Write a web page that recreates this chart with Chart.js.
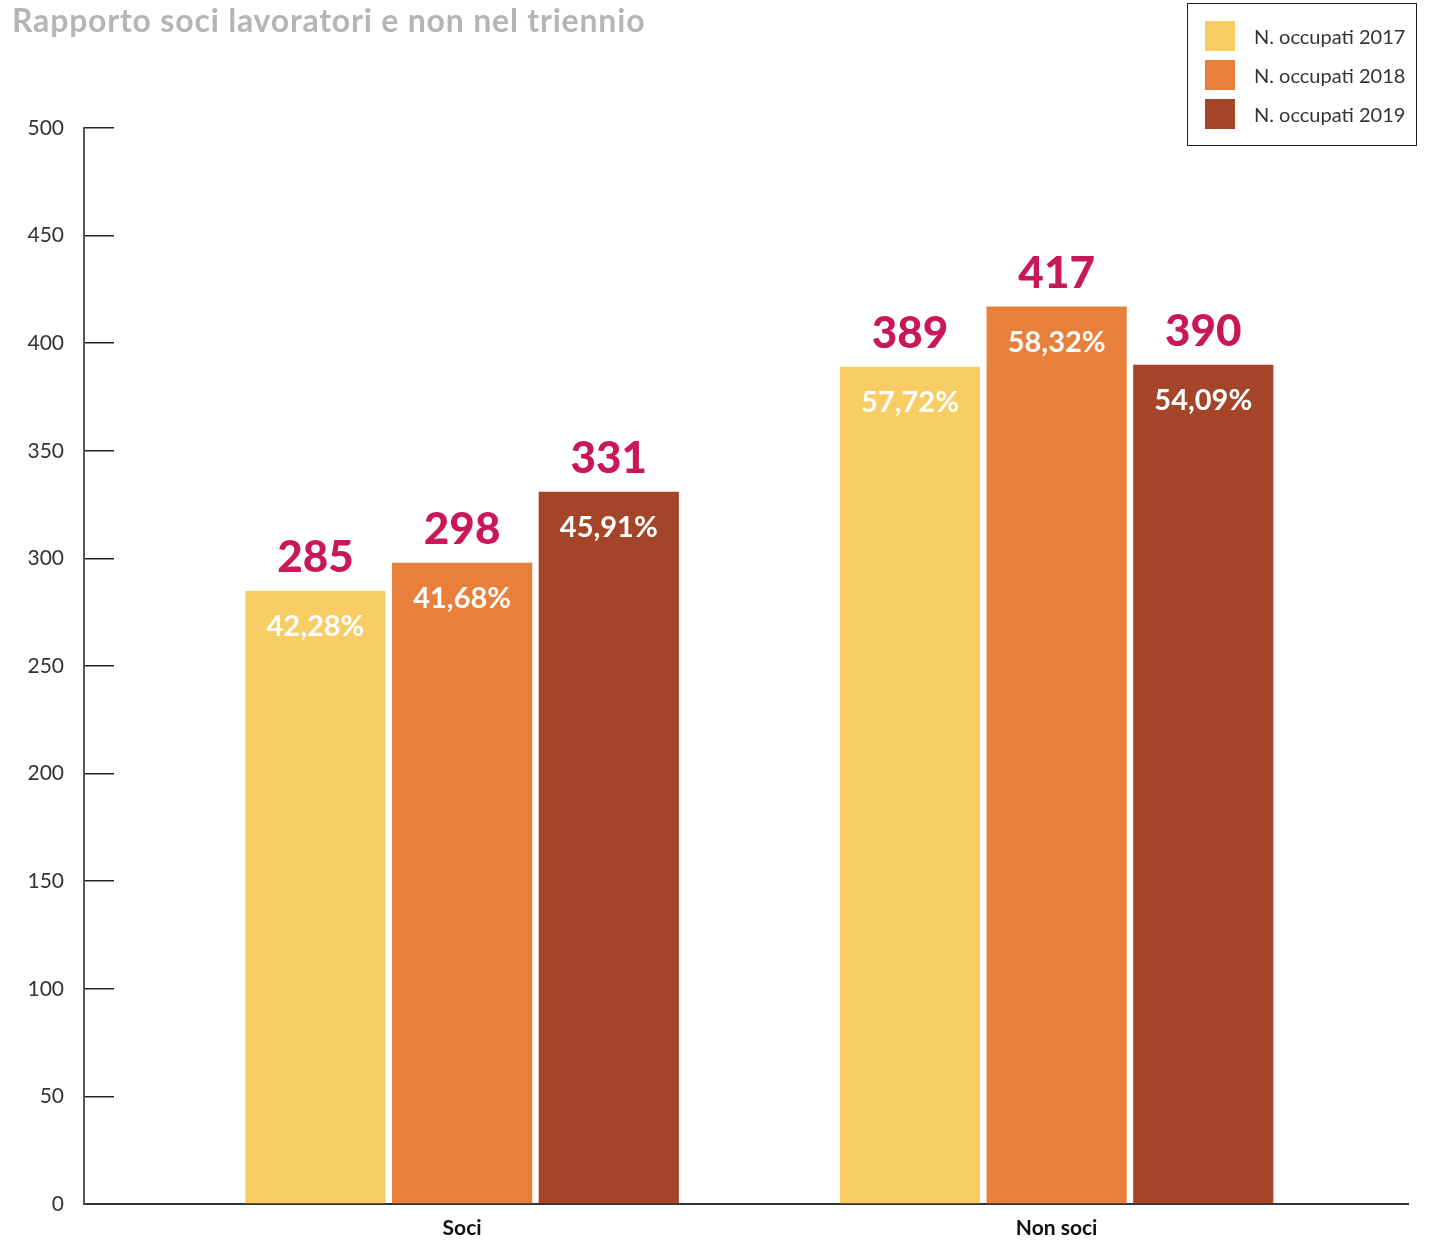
<!DOCTYPE html>
<html>
<head>
<meta charset="utf-8">
<script src="https://cdn.jsdelivr.net/npm/chart.js@4/dist/chart.umd.min.js"></script>
<style>
  body { margin: 0; background: #fff; font-family: Lato, "Open Sans", sans-serif; }
  #wrap { position: relative; width: 1429px; height: 1240px; }
  #title { position: absolute; left: 12px; top: 0px; font-size: 32px; letter-spacing: 0.8px; font-weight: 700; color: #b5b5b5; white-space: nowrap; }
  #legend { position: absolute; left: 1187px; top: 3px; width: 228px; height: 141px; border: 1.5px solid #222; }
  #legend div { position: absolute; left: 17px; height: 30px; line-height: 30px; font-size: 20px; color: #333; white-space: nowrap; }
  #legend span { display: inline-block; width: 30px; height: 30px; vertical-align: top; margin-right: 19px; }
</style>
</head>
<body>
<div id="wrap">
  <canvas id="occupati" width="1429" height="1240"></canvas>
  <div id="title">Rapporto soci lavoratori e non nel triennio</div>
  <div id="legend"></div>
</div>
<script>
const categories = ['Soci', 'Non soci'];
const years = ['N. occupati 2017', 'N. occupati 2018', 'N. occupati 2019'];
const colors = ['#f7cd64', '#e87f3b', '#a4452a'];
const occupati2017 = [285, 389];
const occupati2018 = [298, 417];
const occupati2019 = [331, 390];
const quota2017 = [42.28, 57.72];
const quota2018 = [41.68, 58.32];
const quota2019 = [45.91, 54.09];
const yTicks = [0, 50, 100, 150, 200, 250, 300, 350, 400, 450, 500];

const values = [occupati2017, occupati2018, occupati2019];
const quote = [quota2017, quota2018, quota2019];

// value on top, percentage inside the bar
const barLabels = {
  id: 'barLabels',
  afterDatasetsDraw(chart) {
    const ctx = chart.ctx;
    ctx.save();
    ctx.textAlign = 'center';
    ctx.textBaseline = 'middle';
    chart.data.datasets.forEach((ds, d) => {
      chart.getDatasetMeta(d).data.forEach((bar, i) => {
        ctx.fillStyle = '#c8185a';
        ctx.font = '900 44px Lato';
        ctx.fillText(String(values[d][i]), bar.x, bar.y - 33);
        ctx.fillStyle = '#ffffff';
        ctx.font = '700 29px Lato';
        ctx.fillText(quote[d][i].toFixed(2).replace('.', ',') + '%', bar.x, bar.y + 36);
      });
    });
    ctx.restore();
  }
};

const chart = new Chart(document.getElementById('occupati'), {
  type: 'bar',
  data: {
    datasets: years.map((label, d) => ({
      label: label,
      data: values[d].map((v, i) => ({ x: i, y: v })),
      backgroundColor: colors[d],
      borderWidth: 0,
      categoryPercentage: 0.74,
      barPercentage: 0.956
    }))
  },
  options: {
    responsive: false,
    animation: false,
    devicePixelRatio: 1,
    layout: { padding: { top: 128, right: 21, left: 0, bottom: 0 } },
    plugins: { legend: { display: false }, title: { display: false }, tooltip: { enabled: false } },
    scales: {
      // linear index axis so the two groups sit off-centre like the printed chart
      x: {
        type: 'linear',
        offset: false,
        bounds: 'data',
        grace: 0,
        min: -0.636,
        max: 1.591,
        z: 1,
        afterDataLimits: s => { s.min = -0.636; s.max = 1.591; },
        afterBuildTicks: s => { s.ticks = categories.map((c, i) => ({ value: i })); },
        afterFit: s => { s.height = 36; },
        grid: { display: false, drawTicks: false, offset: false },
        border: { display: true, color: '#333', width: 2 },
        ticks: {
          callback: v => categories[v],
          color: '#111',
          padding: 12,
          maxRotation: 0,
          font: { family: 'Lato', size: 21, weight: '700' }
        }
      },
      y: {
        min: 0,
        max: 500,
        afterBuildTicks: s => { s.ticks = yTicks.map(v => ({ value: v })); },
        afterFit: s => { s.width = 84; s.paddingTop = 0; s.paddingBottom = 0; },
        // negative tick length puts the tick marks inside the plot
        grid: { drawOnChartArea: false, tickLength: -30, color: '#222', lineWidth: 1.5 },
        border: { display: true, color: '#555', width: 2 },
        ticks: {
          color: '#333',
          padding: 50,
          font: { family: 'Lato', size: 21 }
        }
      }
    }
  },
  plugins: [barLabels]
});

// legend box built from the datasets
const legend = document.getElementById('legend');
chart.data.datasets.forEach((ds, d) => {
  const row = document.createElement('div');
  row.style.top = (17 + d * 39) + 'px';
  row.innerHTML = '<span style="background:' + ds.backgroundColor + '"></span>' + ds.label;
  legend.appendChild(row);
});
</script>
</body>
</html>
